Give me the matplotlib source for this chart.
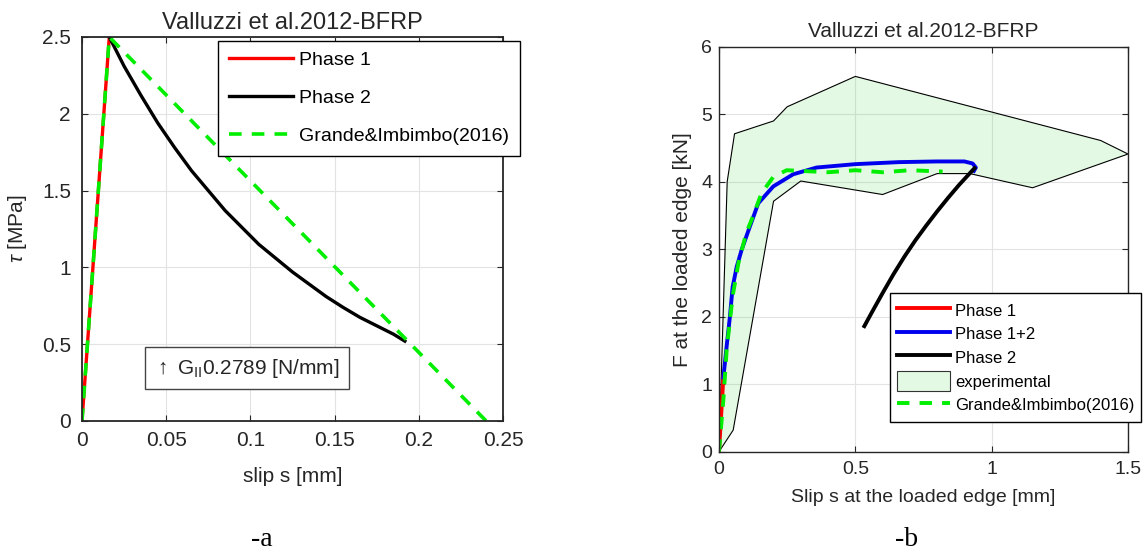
import matplotlib
matplotlib.use('Agg')
import matplotlib.pyplot as plt
from matplotlib.lines import Line2D
from matplotlib.patches import Patch

plt.rcParams['font.family'] = ['Liberation Sans', 'DejaVu Sans']
plt.rcParams['mathtext.fontset'] = 'custom'
plt.rcParams['mathtext.rm'] = 'Liberation Sans'
plt.rcParams['mathtext.it'] = 'Liberation Sans:italic'

# ---- panel a: bond-slip law ----
a_p1_s = [0, 0.0162]
a_p1_tau = [0, 2.5]
a_p2_s = [0.0162, 0.025, 0.035, 0.045, 0.055, 0.065, 0.075, 0.085, 0.095, 0.105,
          0.115, 0.125, 0.135, 0.145, 0.155, 0.165, 0.175, 0.185, 0.1917]
a_p2_tau = [2.50, 2.31, 2.12, 1.94, 1.78, 1.63, 1.50, 1.37, 1.26, 1.15,
            1.06, 0.97, 0.89, 0.81, 0.74, 0.675, 0.62, 0.565, 0.52]
a_gi_s = [0, 0.0162, 0.24]
a_gi_tau = [0, 2.5, 0]
gf_value = '0.2789'

# ---- panel b: load-slip ----
b_p1_s = [0, 0.016]
b_p1_F = [0, 1.1]
b_p12_s = [0.016, 0.028, 0.040, 0.050, 0.065, 0.083, 0.11, 0.144, 0.199, 0.272, 0.358,
           0.50, 0.66, 0.80, 0.90, 0.93, 0.942, 0.935]
b_p12_F = [1.1, 1.56, 2.0, 2.44, 2.74, 2.99, 3.30, 3.68, 3.93, 4.11, 4.21,
           4.26, 4.29, 4.30, 4.30, 4.27, 4.21, 4.16]
b_p2_s = [0.533, 0.56, 0.60, 0.64, 0.68, 0.72, 0.76, 0.80, 0.84, 0.88, 0.937]
b_p2_F = [1.86, 2.06, 2.35, 2.63, 2.89, 3.13, 3.35, 3.56, 3.76, 3.95, 4.20]
b_gi_s = [0, 0.016, 0.028, 0.040, 0.052, 0.071, 0.10, 0.126, 0.156, 0.199, 0.248,
          0.30, 0.40, 0.50, 0.60, 0.70, 0.82]
b_gi_F = [0, 0.77, 1.5, 1.95, 2.35, 2.79, 3.24, 3.50, 3.83, 4.07, 4.17,
          4.16, 4.14, 4.17, 4.14, 4.17, 4.15]
exp_s = [0, 0.030, 0.057, 0.20, 0.25, 0.50, 1.40, 1.50, 1.15, 0.92, 0.80, 0.60, 0.30, 0.20, 0.052, 0]
exp_F = [0, 4.0, 4.71, 4.90, 5.11, 5.56, 4.61, 4.41, 3.91, 4.12, 4.12, 3.81, 4.01, 3.71, 0.32, 0]

title = 'Valluzzi et al.2012-BFRP'
green = '#00ee00'
dk = '#262626'


def style(ax, lw, size, padx, pady):
    ax.grid(True, color='#e3e3e3', lw=0.8)
    ax.set_axisbelow(True)
    ax.tick_params(direction='in', top=True, right=True, length=4, width=0.8,
                   labelsize=size, labelcolor=dk, color=dk)
    ax.tick_params(axis='x', pad=padx)
    ax.tick_params(axis='y', pad=pady)
    for sp in ax.spines.values():
        sp.set_linewidth(lw)
        sp.set_color(dk)


fig = plt.figure(figsize=(11.47, 5.54), dpi=100)

# panel a
ax1 = fig.add_axes([82 / 1147, 1 - 421 / 554, 421 / 1147, 384 / 554])
ax1.plot(a_p1_s, a_p1_tau, color='red', lw=2.4, label='Phase 1')
ax1.plot(a_p2_s, a_p2_tau, color='black', lw=2.4, label='Phase 2')
ax1.plot(a_gi_s, a_gi_tau, color=green, lw=2.6, dashes=(3.5, 2.8), label='Grande&Imbimbo(2016)')
ax1.set_xlim(0, 0.25)
ax1.set_ylim(0, 2.5)
ax1.set_xticks([0, 0.05, 0.1, 0.15, 0.2, 0.25])
ax1.set_xticklabels(['0', '0.05', '0.1', '0.15', '0.2', '0.25'])
ax1.set_yticks([0, 0.5, 1, 1.5, 2, 2.5])
ax1.set_yticklabels(['0', '0.5', '1', '1.5', '2', '2.5'])
style(ax1, 1.3, 15, 7, 8)
ax1.set_title(title, fontsize=17, color=dk, pad=6)
ax1.set_xlabel('slip s [mm]', fontsize=15, color=dk)
ax1.xaxis.set_label_coords(0.5, -0.12)
ax1.set_ylabel(r'$\tau$ [MPa]', fontsize=15, color=dk)
ax1.yaxis.set_label_coords(-0.125, 0.5)
leg1 = ax1.legend(loc='upper right', bbox_to_anchor=(1.04, 0.99), borderaxespad=0,
                  fontsize=14, handlelength=3.3, handletextpad=0.3, labelspacing=1.05,
                  borderpad=0.55, fancybox=False, framealpha=1, edgecolor='black')
leg1.get_frame().set_linewidth(1.0)
ax1.text(0.392, 0.138, r'$\uparrow$ G$_{\mathrm{II}}$' + gf_value + ' [N/mm]',
         transform=ax1.transAxes, ha='center', va='center', fontsize=15, color=dk,
         bbox=dict(boxstyle='square,pad=0.45', fc='white', ec='#444444', lw=1.0))

# panel b
ax2 = fig.add_axes([719 / 1147, 1 - 451.7 / 554, 409 / 1147, 405 / 554])
ax2.fill(exp_s, exp_F, facecolor=(0, 0.8, 0, 0.11), edgecolor='black', lw=0.8)
ax2.plot(b_p1_s, b_p1_F, color='red', lw=2.8)
ax2.plot(b_p12_s, b_p12_F, color='#0000ee', lw=2.8)
ax2.plot(b_p2_s, b_p2_F, color='black', lw=2.8)
ax2.plot(b_gi_s, b_gi_F, color=green, lw=2.8, dashes=(3.2, 2.6))
ax2.set_xlim(0, 1.5)
ax2.set_ylim(0, 6)
ax2.set_xticks([0, 0.5, 1, 1.5])
ax2.set_xticklabels(['0', '0.5', '1', '1.5'])
ax2.set_yticks([0, 1, 2, 3, 4, 5, 6])
style(ax2, 1.0, 14, 7, 5)
ax2.set_title(title, fontsize=15, color=dk, pad=7)
ax2.set_xlabel('Slip s at the loaded edge [mm]', fontsize=14, color=dk)
ax2.xaxis.set_label_coords(0.5, -0.092)
ax2.set_ylabel('F at the loaded edge [kN]', fontsize=15, color=dk)
ax2.yaxis.set_label_coords(-0.066, 0.5)
handles = [
    Line2D([], [], color='red', lw=2.8),
    Line2D([], [], color='#0000ee', lw=2.8),
    Line2D([], [], color='black', lw=2.8),
    Patch(facecolor=(0, 0.8, 0, 0.11), edgecolor='#333333', lw=0.8),
    Line2D([], [], color=green, lw=2.8, dashes=(3.2, 2.6)),
]
labels = ['Phase 1', 'Phase 1+2', 'Phase 2', 'experimental', 'Grande&Imbimbo(2016)']
leg2 = ax2.legend(handles, labels, loc='lower right', bbox_to_anchor=(1.032, 0.074),
                  borderaxespad=0, fontsize=12, handlelength=3.2, handleheight=1.5,
                  handletextpad=0.3, labelspacing=0.2, borderpad=0.4,
                  fancybox=False, framealpha=1, edgecolor='black')
leg2.get_frame().set_linewidth(1.0)

fig.text(262 / 1147, 1 - 540 / 554, '-a', ha='center', va='center',
         family='Liberation Serif', fontsize=20)
fig.text(907 / 1147, 1 - 540 / 554, '-b', ha='center', va='center',
         family='Liberation Serif', fontsize=20)

fig.savefig('out.png', dpi=100)
